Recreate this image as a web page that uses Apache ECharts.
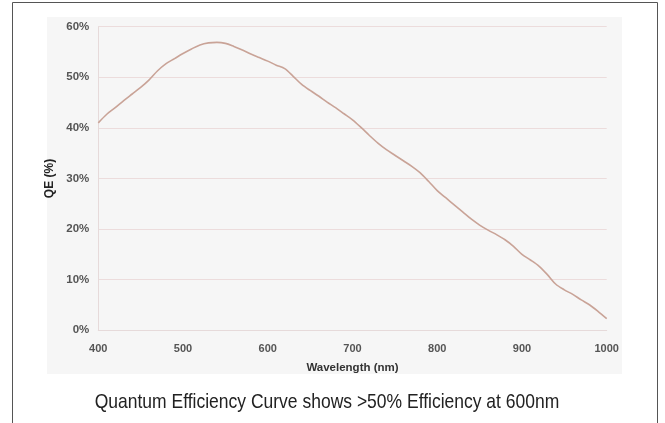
<!DOCTYPE html>
<html>
<head>
<meta charset="utf-8">
<script src="https://cdn.jsdelivr.net/npm/echarts@6/dist/echarts.min.js"></script>
<style>
html,body{margin:0;padding:0;background:#fff;}
#c{width:665px;height:423px;}
</style>
</head>
<body>
<div id="c"></div>
<script>
const wavelengths = [400,410,420,430,440,450,460,470,480,490,500,510,520,530,540,550,560,570,580,590,600,610,620,630,640,650,660,670,680,690,700,710,720,730,740,750,760,770,780,790,800,810,820,830,840,850,860,870,880,890,900,910,920,930,940,950,960,970,980,990,1000];
const qeValues = [41.0,42.7,44.0,45.4,46.7,48.0,49.5,51.3,52.7,53.7,54.7,55.6,56.4,56.8,56.9,56.7,56.1,55.4,54.6,53.9,53.2,52.4,51.7,50.2,48.6,47.4,46.3,45.1,44.0,42.8,41.6,40.1,38.5,37.0,35.7,34.6,33.5,32.4,31.1,29.4,27.6,26.2,24.8,23.4,22.0,20.8,19.8,18.9,17.9,16.6,15.0,13.9,12.7,11.0,9.1,8.0,7.1,6.0,5.0,3.7,2.3];
const xTicks = [400,500,600,700,800,900,1000];
const yTicks = [0,10,20,30,40,50,60];
const xTitle = 'Wavelength (nm)';
const yTitle = 'QE (%)';
const caption = 'Quantum Efficiency Curve shows >50% Efficiency at 600nm';

const chart = echarts.init(document.getElementById('c'), null, {renderer:'canvas'});
chart.setOption({
  animation:false,
  backgroundColor:'#ffffff',
  graphic:[
    {type:'rect', z:-10, shape:{x:12.5,y:2.5,width:645,height:440}, style:{fill:'#ffffff',stroke:'#555555',lineWidth:1}},
    {type:'rect', z:-9, shape:{x:47,y:17,width:575,height:357}, style:{fill:'#f6f6f6'}},
    {type:'text', x:327, y:402, scaleX:0.833,
      style:{text:caption, fontFamily:'Liberation Sans, Arial, sans-serif', fontSize:21, fill:'#222', align:'center', verticalAlign:'middle'}}
  ],
  grid:{left:98.3, right:58.3, top:26.7, bottom:92.7},
  xAxis:{
    type:'value', min:400, max:1000, interval:100,
    name:xTitle, nameLocation:'middle', nameGap:32,
    nameTextStyle:{fontFamily:'Liberation Sans, Arial, sans-serif', fontWeight:'bold', fontSize:11.5, color:'#333'},
    axisLine:{show:true, lineStyle:{color:'#e6dada'}},
    axisTick:{show:false},
    splitLine:{show:false},
    axisLabel:{fontFamily:'Liberation Sans, Arial, sans-serif', fontWeight:'bold', fontSize:11, color:'#555', margin:13,
      formatter:v=> xTicks.includes(v) ? String(v) : ''}
  },
  yAxis:{
    type:'value', min:0, max:60, interval:10,
    name:yTitle, nameLocation:'middle', nameGap:36,
    nameTextStyle:{fontFamily:'Liberation Sans, Arial, sans-serif', fontWeight:'bold', fontSize:12, color:'#222'},
    axisLine:{show:true, lineStyle:{color:'#e6dada'}},
    axisTick:{show:false},
    splitLine:{show:true, lineStyle:{color:'#ecdcdc', width:1}},
    axisLabel:{fontFamily:'Liberation Sans, Arial, sans-serif', fontWeight:'bold', fontSize:11.5, color:'#555', margin:9,
      formatter:v=> yTicks.includes(v) ? v+'%' : ''}
  },
  series:[{
    type:'line',
    data:wavelengths.map((w,i)=>[w,qeValues[i]]),
    smooth:0.3,
    showSymbol:false,
    lineStyle:{color:'#c9a397', width:1.6}
  }]
});
</script>
</body>
</html>
